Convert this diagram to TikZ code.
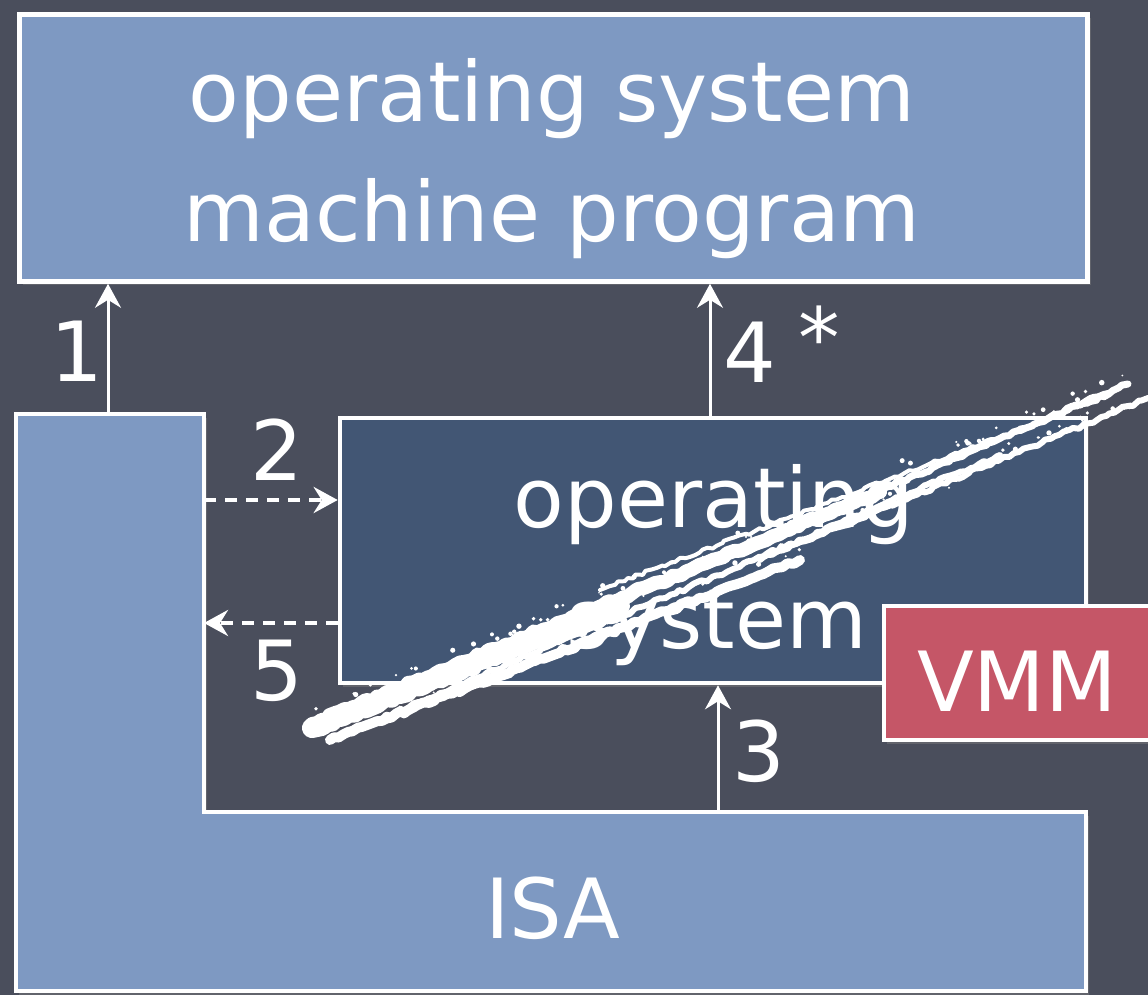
\documentclass[tikz,border=0pt]{standalone}
\usepackage{fontspec}
\setmainfont{DejaVu Sans}
\usetikzlibrary{arrows.meta,decorations.pathmorphing,shadows}

\definecolor{board}{RGB}{74,78,92}
\definecolor{paleblue}{RGB}{126,153,194}
\definecolor{deepblue}{RGB}{66,86,116}
\definecolor{vmmred}{RGB}{197,86,103}

\begin{document}
\begin{tikzpicture}[x=0.5pt,y=-0.5pt,
  panel/.style={draw=white, line width=2.3pt, inner sep=0pt,
    drop shadow={shadow xshift=1.5pt, shadow yshift=-2pt, opacity=0.45}},
  txt/.style={text=white, font=\fontsize{41.5}{50}\selectfont, inner sep=0pt},
  arr/.style={draw=white, line width=1.5pt,
    -{Stealth[length=12pt,width=13pt,inset=4pt]}},
  darr/.style={arr, line width=2pt, dash pattern=on 6pt off 4.5pt},
  chalk/.style={draw=white, line cap=round, line join=round, decorate,
    decoration={random steps, segment length=2.5pt, amplitude=0.9pt}}
]
% chalkboard
\fill[board] (0,0) rectangle (1148,995);
\useasboundingbox (0,0) rectangle (1148,995);

% upper layer: operating system / machine program
\node[panel, fill=paleblue, minimum width=534pt, minimum height=133.5pt] (osm) at (553.5,148) {};
\node[txt, anchor=base] (osmA) at (552,122) {operating system};
\node[txt, anchor=base] (osmB) at (552,242) {machine program};

% ISA, an L-shaped layer
\filldraw[panel, fill=paleblue] (16,414) -- (204,414) -- (204,812) -- (1086,812)
  -- (1086,991) -- (16,991) -- cycle;
\node[txt] (isa) at (553,908) {ISA};
\coordinate (colTop) at (108,414);
\coordinate (colRightA) at (204,500);
\coordinate (colRightB) at (204,623);
\coordinate (stepTop) at (718,812);

% guest operating system
\node[panel, fill=deepblue, minimum width=373pt, minimum height=132.5pt] (os) at (713,550.5) {};
\node[txt, anchor=base] (osA) at (714,527) {operating};
\node[txt, anchor=base] (osB) at (717,648) {system};

% connectors
\draw[arr] (colTop) -- (colTop |- osm.south);
\node[txt] (n1) at (77,351) {1};
\draw[arr] ([xshift=-1.5pt]os.north) -- ([xshift=-1.5pt]os.north |- osm.south);
\node[txt] (n4) at (750,352) {4};
\node[txt, anchor=north] (star) at (819,305) {*};
\draw[darr] (colRightA) -- (colRightA -| os.west);
\node[txt] (n2) at (277,450) {2};
\draw[darr] (colRightB -| os.west) -- (colRightB);
\node[txt] (n5) at (277,671) {5};
\draw[arr] (stepTop) -- (stepTop |- os.south);
\node[txt] (n3) at (759,751) {3};

% chalk strike-through: a dense band at the lower left, thinning into strands
\pgfmathsetseed{42}
\foreach \ax/\ay/\bx/\by/\w in {
  312/724/880/492/7pt, 312/728/620/606/10pt, 330/740/800/560/5pt,
  360/708/760/540/4pt, 700/568/1128/384/3.5pt,
  760/560/1148/398/3pt, 330/740/1000/455/3pt, 600/590/1110/395/2pt,
  340/716/760/540/3pt}
  \draw[chalk, line width=\w] (\ax,\ay) -- (\bx,\by);
% loose chalk dust along the band
\foreach \i in {1,...,170} {
  \pgfmathsetmacro{\t}{rnd}
  \pgfmathsetmacro{\px}{312+\t*820+rand*8}
  \pgfmathsetmacro{\py}{730-\t*340+rand*22}
  \pgfmathsetmacro{\r}{0.4+rnd*1.0}
  \fill[white] (\px,\py) circle[radius=\r pt];
}

% virtual machine monitor
\node[panel, fill=vmmred, minimum width=138pt, minimum height=67pt] (vmm) at (1022,673) {};
\node[txt] (vmmtext) at (1017,681) {VMM};
\end{tikzpicture}
\end{document}
